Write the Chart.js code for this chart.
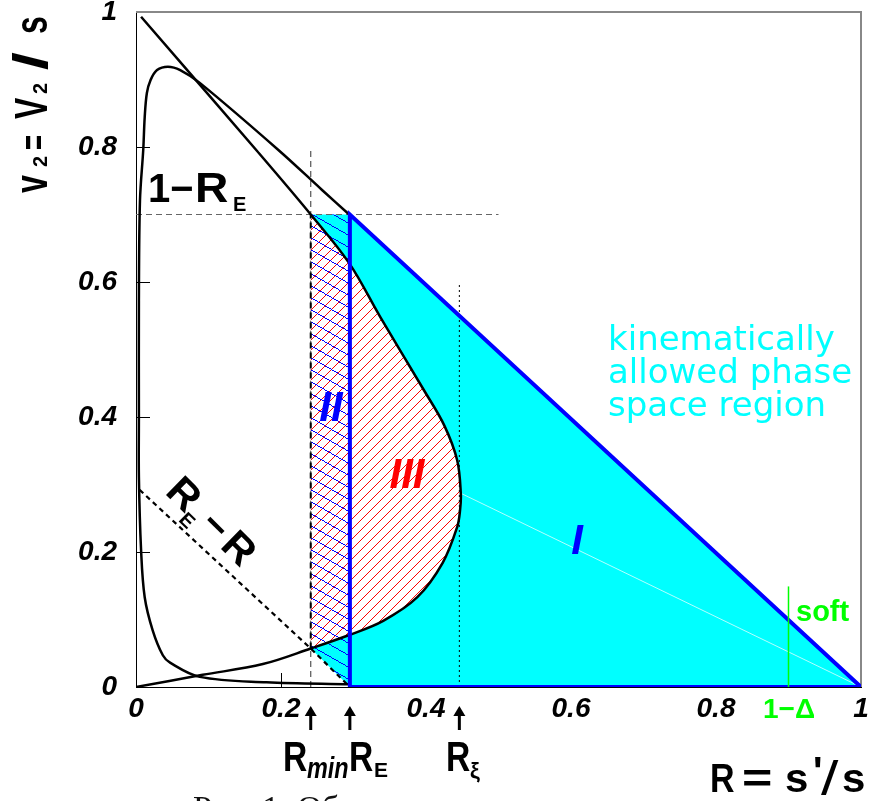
<!DOCTYPE html>
<html>
<head>
<meta charset="utf-8">
<title>Phase space regions</title>
<script src="https://cdn.jsdelivr.net/npm/chart.js@4.4.1/dist/chart.umd.min.js"></script>
<style>
  html, body { margin: 0; padding: 0; background: #fff; overflow: hidden; }
</style>
</head>
<body>
<canvas id="phase-chart" width="869" height="801"></canvas>
<script>
// ── special R values (arrows under the axis) ──
const R_MIN = 0.241;
const R_E = 0.295;
const R_XI = 0.446;
const R_SOFT = 0.90;          // 1 - Δ
const V_TOP = 0.70;           // 1 - R_E
const V_CORNER = 0.057;       // where R_E - R meets the loop at R_min

// boundary loop: origin -> round R_xi -> top left corner
const loopR = [0.000, 0.092, 0.175, R_MIN, 0.294, 0.341, 0.388, 0.423, 0.443, 0.447, 0.448, 0.443, 0.425, 0.397, 0.337, 0.294, R_MIN, 0.167, 0.007];
const loopV = [0.000, 0.018, 0.034, V_CORNER, 0.077, 0.098, 0.133, 0.184, 0.237, 0.262, 0.287, 0.336, 0.388, 0.440, 0.548, 0.628, 0.700, 0.794, 0.993];

// second curve: (R_E, 1-R_E) -> peak -> down the left edge -> along the bottom to R_E
const edgeR = [0.294, 0.257, 0.196, 0.088, 0.061, 0.044, 0.029, 0.020, 0.015, 0.012, 0.010, 0.0055, 0.004, 0.004, 0.004, 0.007, 0.012, 0.023, 0.037, 0.047, 0.088, 0.180, 0.295];
const edgeV = [0.700, 0.736, 0.796, 0.895, 0.914, 0.919, 0.914, 0.899, 0.880, 0.844, 0.796, 0.721, 0.573, 0.400, 0.311, 0.203, 0.133, 0.084, 0.047, 0.036, 0.015, 0.007, 0.004];

// dashed R_E - R line
const diagR = [0.005, R_MIN, R_E];
const diagV = [0.292, V_CORNER, 0.000];

// allowed region (cyan) and region II strip (blue hatch)
const cyanR = [R_MIN, R_E, 1.0, R_E, R_MIN];
const cyanV = [V_TOP, V_TOP, 0.0, 0.0, V_CORNER];
const stripR = [R_MIN, R_MIN, R_E, R_E];
const stripV = [V_CORNER, V_TOP, V_TOP, 0.0];

const xTicks = [0, 0.2, 0.4, 0.6, 0.8, 1];
const yTicks = [0, 0.2, 0.4, 0.6, 0.8, 1];

const TENSION = 0.35;
const pts = (rs, vs) => rs.map((r, i) => ({ x: r, y: vs[i] }));

// region III = part of the loop right of R_min
const iLo = loopR.indexOf(R_MIN);
const iHi = loopR.lastIndexOf(R_MIN);
const regionIII = pts(loopR.slice(iLo, iHi + 1), loopV.slice(iLo, iHi + 1));
const iApex = loopR.indexOf(Math.max(...loopR));

const fmt = v => (v === 0 || v === 1) ? String(v) : v.toFixed(1);
const tickFont = { family: 'Liberation Sans', size: 28, style: 'italic', weight: 'bold' };
const CLEAR = 'rgba(0,0,0,0)';

function line(data, color, width, extra = {}) {
    return Object.assign({
        data, borderColor: color, borderWidth: width, pointRadius: 0,
        fill: false, tension: 0
    }, extra);
}

// bottom -> top
const layers = [
    line(pts(cyanR, cyanV), CLEAR, 0, { fill: 'shape', backgroundColor: '#00ffff' }),
    line(regionIII, CLEAR, 0, { fill: 'shape', backgroundColor: '#ffffff', tension: TENSION,
        hatch: { color: '#ff0000', slope: -1, step: 10 } }),
    line(pts(stripR, stripV), CLEAR, 0, { hatch: { color: '#0000ff', slope: 0.571, step: 12 } }),
    line([{ x: loopR[iApex], y: loopV[iApex] }, { x: 1, y: 0 }], 'rgba(255,255,255,0.7)', 1),
    line([{ x: R_XI, y: 0 }, { x: R_XI, y: 0.6 }], '#000', 1, { borderDash: [2, 3] }),
    line([{ x: R_MIN, y: 0 }, { x: R_MIN, y: 0.8 }], '#555', 1.2, { borderDash: [6, 4] }),
    line([{ x: 0, y: V_TOP }, { x: 0.5, y: V_TOP }], '#666', 1.2, { borderDash: [6, 4] }),
    line([{ x: R_MIN, y: V_CORNER }, { x: R_MIN, y: V_TOP }], '#000', 2, { borderDash: [6, 4] }),
    line(pts(diagR, diagV), '#000', 2.2, { borderDash: [5, 4] }),
    line(pts(loopR, loopV), '#000', 2.5, { tension: TENSION }),
    line(pts(edgeR, edgeV), '#000', 2.5, { tension: TENSION }),
    line([{ x: R_E, y: 0 }, { x: R_E, y: V_TOP }, { x: 1, y: 0 }, { x: R_E, y: 0 }], '#0000ff', 4, { borderJoinStyle: 'miter' }),
    line([{ x: R_SOFT, y: 0 }, { x: R_SOFT, y: 0.149 }], '#00ff00', 1.5)
];
layers.forEach((d, i) => { d.order = 100 - i; });

function glyph(c, text, x, y, font, color, sx = 1, sy = 1) {
    c.save();
    c.translate(x, y);
    c.scale(sx, sy);
    c.font = font;
    c.fillStyle = color;
    c.textAlign = 'left';
    c.textBaseline = 'alphabetic';
    c.fillText(text, 0, 0);
    c.restore();
}

function arrowUp(c, x, yTop, yBot) {
    c.save();
    c.strokeStyle = '#000';
    c.fillStyle = '#000';
    c.lineWidth = 3;
    c.beginPath(); c.moveTo(x, yBot); c.lineTo(x, yTop + 6); c.stroke();
    c.beginPath(); c.moveTo(x, yTop); c.lineTo(x - 6, yTop + 10); c.lineTo(x + 6, yTop + 10); c.closePath(); c.fill();
    c.restore();
}

const decor = {
    id: 'decor',
    beforeDatasetsDraw(chart) {
        const c = chart.ctx, a = chart.chartArea;
        const xs = chart.scales.x, ys = chart.scales.y;
        c.save();
        c.strokeStyle = '#000';
        c.lineWidth = 1;
        xTicks.forEach(v => {
            const p = Math.round(xs.getPixelForValue(v)) + 0.5;
            c.beginPath(); c.moveTo(p, a.bottom); c.lineTo(p, a.bottom - 14); c.stroke();
        });
        yTicks.forEach(v => {
            const p = Math.round(ys.getPixelForValue(v)) + 0.5;
            c.beginPath(); c.moveTo(a.left, p); c.lineTo(a.left + 14, p); c.stroke();
        });
        c.strokeStyle = '#888';
        c.lineWidth = 2;
        c.beginPath();
        c.moveTo(a.left, a.top); c.lineTo(a.right, a.top); c.lineTo(a.right, a.bottom);
        c.stroke();
        c.restore();
    },
    // crisp one-pixel hatching, clipped to the dataset's own outline
    afterDatasetDraw(chart, args) {
        const ds = chart.data.datasets[args.index];
        if (!ds.hatch) return;
        const { color, slope, step } = ds.hatch;
        const c = chart.ctx;
        const px = args.meta.data.map(p => p.x);
        const py = args.meta.data.map(p => p.y);
        const x0 = Math.floor(Math.min(...px)) - 4, x1 = Math.ceil(Math.max(...px)) + 4;
        const y0 = Math.floor(Math.min(...py)) - 4, y1 = Math.ceil(Math.max(...py)) + 4;
        c.save();
        c.beginPath();
        args.meta.dataset.path(c);
        c.closePath();
        c.clip();
        c.fillStyle = color;
        for (let x = x0; x <= x1; x++) {
            const base = slope * x;
            const nMin = Math.ceil((y0 - base) / step);
            const nMax = Math.floor((y1 - base) / step);
            for (let n = nMin; n <= nMax; n++) {
                c.fillRect(x, Math.round(n * step + base), 1, 1);
            }
        }
        c.restore();
    },
    afterDraw(chart) {
        const c = chart.ctx;
        const xs = chart.scales.x;
        const LS = 'px Liberation Sans';

        // y axis title  v2 = V2 / s
        c.save();
        c.translate(47, 0);
        c.rotate(-Math.PI / 2);
        glyph(c, 'v', -193, 0, 'bold 32' + LS, '#000', 1, 1.47);
        glyph(c, '2', -167, 0, 'bold 20' + LS, '#000');
        glyph(c, '=', -150, 0, 'bold 32' + LS, '#000', 0.8, 1.2);
        glyph(c, 'V', -119, 0, 'bold 32' + LS, '#000', 1, 1.47);
        glyph(c, '2', -94, 0, 'bold 20' + LS, '#000');
        glyph(c, '/', -70, 0, 'bold 40' + LS, '#000', 1.6, 1.2);
        glyph(c, 's', -34, 0, 'bold 32' + LS, '#000', 1, 1.47);
        c.restore();

        // 1 - R_E
        glyph(c, '1', 148, 202, 'bold 40' + LS, '#000');
        glyph(c, '\u2212', 170, 202, 'bold 40' + LS, '#000');
        glyph(c, 'R', 195, 202, 'bold 42' + LS, '#000', 1.1);
        glyph(c, 'E', 233, 211, 'bold 20' + LS, '#000');

        // R_E - R along the dashed line
        c.save();
        c.translate(164, 493);
        c.rotate(44.5 * Math.PI / 180);
        glyph(c, 'R', 0, 0, 'bold 40' + LS, '#000', 1.05);
        glyph(c, 'E', 29, 10, 'bold 20' + LS, '#000');
        glyph(c, '\u2212', 48, 0, 'bold 40' + LS, '#000');
        glyph(c, 'R', 77, 0, 'bold 40' + LS, '#000', 1.05);
        c.restore();

        // region numbers
        c.save();
        c.textAlign = 'center';
        c.textBaseline = 'alphabetic';
        c.font = 'italic bold 42' + LS;
        c.fillStyle = '#0000ff';
        c.fillText('I', 577, 554);
        c.fillText('II', 331, 421);
        c.fillStyle = '#ff0000';
        c.fillText('III', 407, 488);
        c.restore();

        // allowed region text
        const cyanFont = '34px DejaVu Sans';
        glyph(c, 'kinematically', 608, 350, cyanFont, '#00ffff');
        glyph(c, 'allowed phase', 608, 383, cyanFont, '#00ffff');
        glyph(c, 'space region', 608, 416, cyanFont, '#00ffff');

        // soft region
        glyph(c, 'soft', 796, 621, 'bold 29' + LS, '#00ff00');
        glyph(c, '1\u2212\u0394', 763, 718, 'bold 28' + LS, '#00ff00');

        // arrows and their labels
        [R_MIN, R_E, R_XI].forEach(r => arrowUp(c, xs.getPixelForValue(r), 706, 730));
        glyph(c, 'R', 283, 771, 'bold 42' + LS, '#000', 0.8);
        glyph(c, 'min', 307, 778, 'italic bold 30' + LS, '#000', 0.78);
        glyph(c, 'R', 349, 771, 'bold 42' + LS, '#000', 0.8);
        glyph(c, 'E', 374, 777, 'bold 21' + LS, '#000');
        glyph(c, 'R', 446, 771, 'bold 42' + LS, '#000', 0.8);
        glyph(c, '\u03BE', 470, 778, 'bold 22' + LS, '#000');

        // x axis title  R = s'/s
        glyph(c, 'R', 710, 792, 'bold 40' + LS, '#000', 0.85);
        glyph(c, '=', 742, 792, 'bold 40' + LS, '#000', 1.3);
        glyph(c, 's', 785, 792, 'bold 40' + LS, '#000', 1.05);
        glyph(c, "'", 813, 785, 'bold 40' + LS, '#000');
        glyph(c, '/', 821, 795, '48' + LS, '#000', 1.3);
        glyph(c, 's', 842, 792, 'bold 40' + LS, '#000', 1.05);

        // caption (cut by the page edge)
        glyph(c, '\u0420\u0438\u0441. 1: \u041E\u0431', 193, 819, '34px Liberation Serif', '#111');
    }
};

new Chart(document.getElementById('phase-chart'), {
    type: 'line',
    data: { datasets: layers },
    options: {
        responsive: false,
        animation: false,
        layout: { padding: { left: 0, right: 8, top: 12, bottom: 0 } },
        plugins: {
            legend: { display: false },
            tooltip: { enabled: false },
            filler: { propagate: false }
        },
        scales: {
            x: {
                type: 'linear',
                min: 0,
                max: 1,
                afterBuildTicks: s => { s.ticks = xTicks.map(v => ({ value: v })); },
                afterFit: s => { s.height = 114; s.paddingLeft = 0; s.paddingRight = 0; },
                grid: { display: false, drawTicks: false, tickLength: 0 },
                border: { display: true, color: '#000', width: 1 },
                ticks: { font: tickFont, color: '#000', padding: 5, maxRotation: 0, autoSkip: false, callback: v => fmt(v) }
            },
            y: {
                type: 'linear',
                min: 0,
                max: 1,
                afterBuildTicks: s => { s.ticks = yTicks.map(v => ({ value: v })); },
                afterFit: s => { s.width = 136; s.paddingTop = 0; s.paddingBottom = 0; },
                grid: { display: false, drawTicks: false, tickLength: 0 },
                border: { display: true, color: '#000', width: 1 },
                ticks: { font: tickFont, color: '#000', padding: 19, autoSkip: false, callback: v => fmt(v) }
            }
        }
    },
    plugins: [decor]
});
</script>
</body>
</html>
